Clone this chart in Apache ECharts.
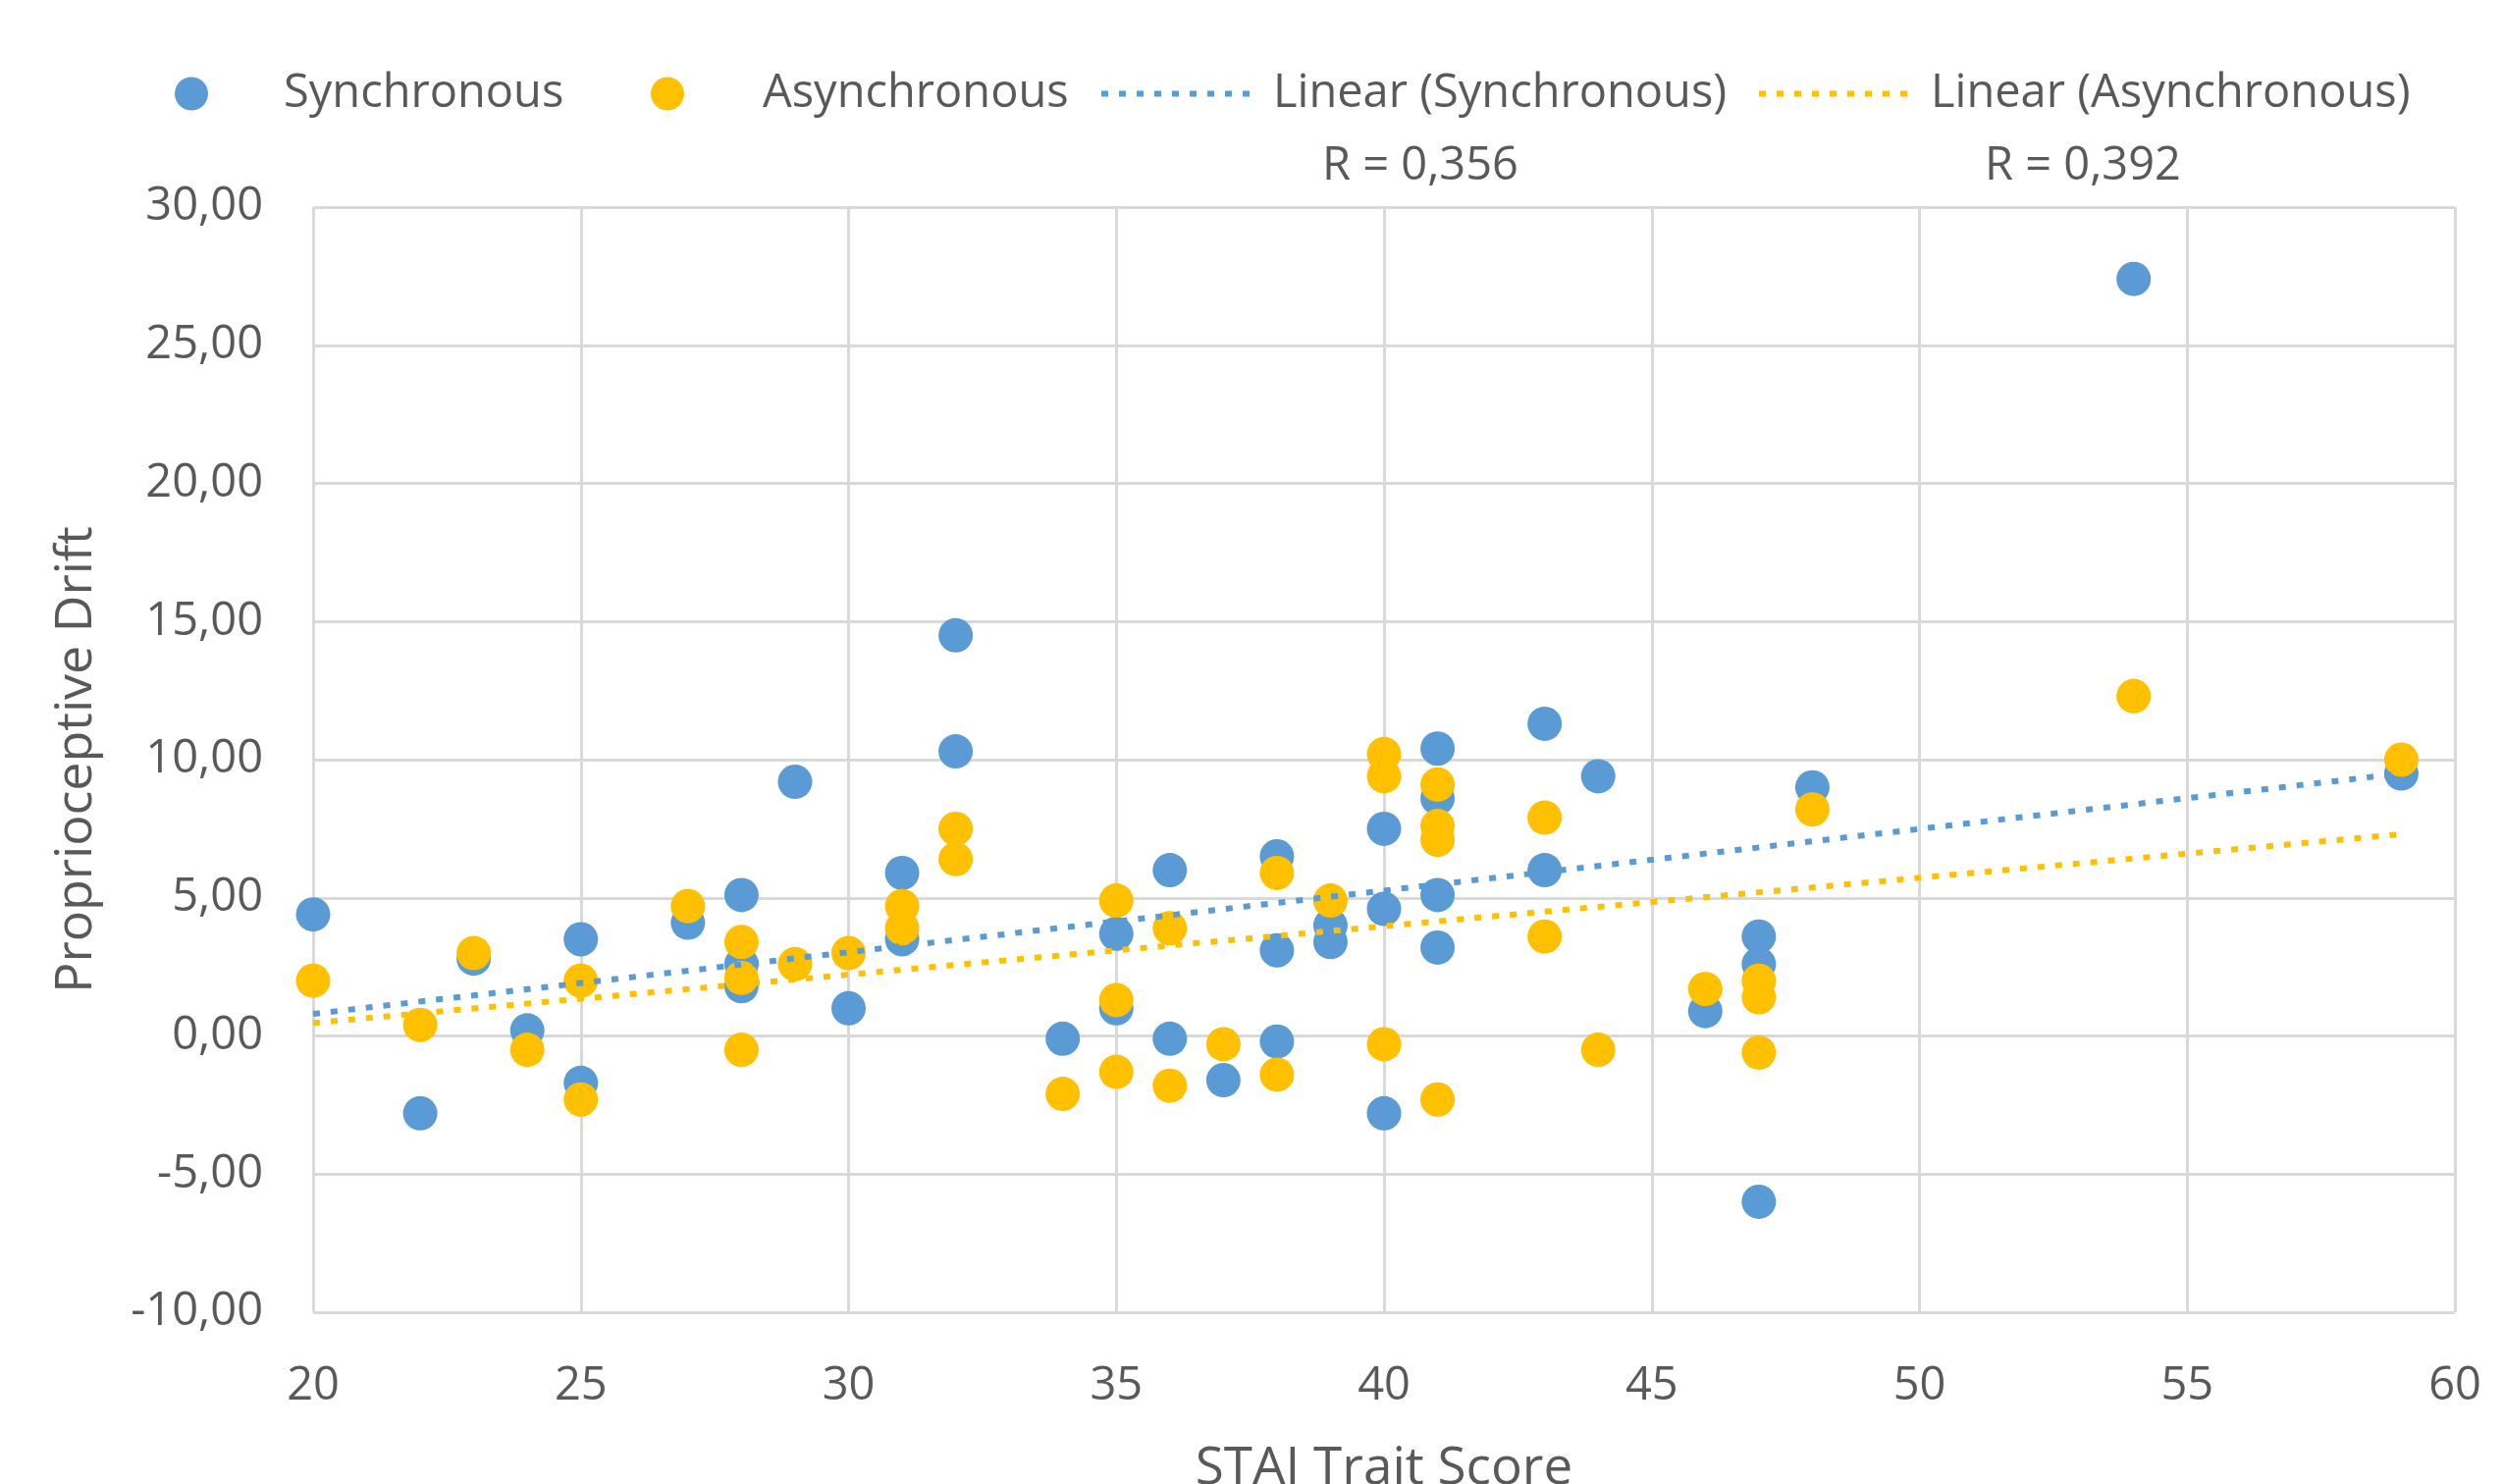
<!DOCTYPE html>
<html>
<head>
<meta charset="utf-8">
<script src="https://cdn.jsdelivr.net/npm/echarts@6/dist/echarts.min.js"></script>
<style>
html,body{margin:0;padding:0;background:#fff;}
#chart{width:2550px;height:1512px;}
</style>
</head>
<body>
<div id="chart"></div>
<script>
// ---- data ----
const syncX = [20, 22, 23, 24, 25, 25, 27, 28, 28, 28, 29, 30, 31, 31, 32, 32, 34, 35, 35, 36, 36, 37, 38, 38, 38, 39, 39, 40, 40, 40, 41, 41, 41, 41, 43, 43, 44, 46, 47, 47, 47, 48, 54, 59];
const syncY = [4.4, -2.8, 2.8, 0.2, 3.5, -1.7, 4.1, 5.1, 2.6, 1.8, 9.2, 1.0, 5.9, 3.5, 14.5, 10.3, -0.1, 3.7, 1.0, 6.0, -0.1, -1.6, 6.5, 3.1, -0.2, 4.0, 3.4, 7.5, 4.6, -2.8, 10.4, 8.6, 5.1, 3.2, 11.3, 6.0, 9.4, 0.9, 3.6, 2.6, -6.0, 9.0, 27.4, 9.5];
const asyncX = [20, 22, 23, 24, 25, 25, 27, 28, 28, 28, 29, 30, 31, 31, 32, 32, 34, 35, 35, 35, 36, 36, 37, 38, 38, 39, 40, 40, 40, 41, 41, 41, 41, 43, 43, 44, 46, 47, 47, 47, 48, 54, 59];
const asyncY = [2.0, 0.4, 3.0, -0.5, 2.0, -2.3, 4.7, 3.4, 2.1, -0.5, 2.6, 3.0, 4.7, 3.9, 7.5, 6.4, -2.1, 4.9, 1.3, -1.3, 3.9, -1.8, -0.3, 5.9, -1.4, 4.9, 10.2, 9.4, -0.3, 9.1, 7.6, 7.1, -2.3, 7.9, 3.6, -0.5, 1.7, 2.0, 1.4, -0.6, 8.2, 12.3, 10.0];
// trendline end points
const trendSyncX = [20, 59];
const trendSyncY = [0.8, 9.5];
const trendAsyncX = [20, 59];
const trendAsyncY = [0.47, 7.3];
const seriesNames = ['Synchronous', 'Asynchronous', 'Linear (Synchronous)', 'Linear (Asynchronous)'];
const rLabels = ['R = 0,356', 'R = 0,392'];
const xAxisTitle = 'STAI Trait Score';
const yAxisTitle = 'Proprioceptive Drift';

const zip = (xs, ys) => xs.map((x, i) => [x, ys[i]]);
const FONT = 'Open Sans';
const GREY = '#595959';
const BLUE = '#5B9BD5';
const GOLD = '#FFC000';

function legendBox(name, left, isLine, padLeft) {
  const item = {name: name};
  if (isLine) {
    item.itemStyle = {opacity: 0};
    item.lineStyle = {width: 6};
  } else {
    item.icon = 'circle';
  }
  return {
    left: left, top: 72, padding: 0,
    itemWidth: isLine ? 154 : 34, itemHeight: 34,
    textStyle: {fontSize: 47, color: GREY, fontFamily: FONT, padding: [0, 0, 0, padLeft]},
    data: [item]
  };
}

const chart = echarts.init(document.getElementById('chart'), null, {renderer: 'canvas'});
chart.setOption({
  animation: false,
  backgroundColor: '#ffffff',
  textStyle: {fontFamily: FONT},
  grid: {left: 319, top: 211, width: 2182, height: 1126, containLabel: false, outerBoundsMode: 'none'},
  legend: [
    legendBox(seriesNames[0], 178, false, 72),
    legendBox(seriesNames[1], 663, false, 75),
    legendBox(seriesNames[2], 1119, true, 16),
    legendBox(seriesNames[3], 1789, true, 16)
  ],
  xAxis: {
    type: 'value', min: 20, max: 60, interval: 5,
    name: xAxisTitle, nameLocation: 'middle', nameGap: 133,
    nameTextStyle: {fontSize: 53, color: GREY, fontFamily: FONT},
    axisLine: {show: false}, axisTick: {show: false},
    axisLabel: {fontSize: 47, color: GREY, fontFamily: FONT, margin: 52},
    splitLine: {show: true, lineStyle: {color: '#D9D9D9', width: 3}}
  },
  yAxis: {
    type: 'value', min: -10, max: 30, interval: 5,
    name: yAxisTitle, nameLocation: 'middle', nameGap: 215,
    nameTextStyle: {fontSize: 52, color: GREY, fontFamily: FONT},
    axisLine: {show: false}, axisTick: {show: false},
    axisLabel: {fontSize: 47, color: GREY, fontFamily: FONT, margin: 51,
      formatter: v => v.toFixed(2).replace('.', ',')},
    splitLine: {show: true, lineStyle: {color: '#D9D9D9', width: 3}}
  },
  series: [
    {name: seriesNames[0], type: 'scatter', symbol: 'circle', symbolSize: 35,
     itemStyle: {color: BLUE, opacity: 1}, data: zip(syncX, syncY), z: 2},
    {name: seriesNames[1], type: 'scatter', symbol: 'circle', symbolSize: 35,
     itemStyle: {color: GOLD, opacity: 1}, data: zip(asyncX, asyncY), z: 3},
    {name: seriesNames[2], type: 'line', symbol: 'none', color: BLUE,
     lineStyle: {color: BLUE, width: 6, type: [7, 11]}, data: zip(trendSyncX, trendSyncY), z: 4},
    {name: seriesNames[3], type: 'line', symbol: 'none', color: GOLD,
     lineStyle: {color: GOLD, width: 6, type: [7, 11]}, data: zip(trendAsyncX, trendAsyncY), z: 4}
  ],
  graphic: [
    {type: 'text', x: 1447, y: 170, style: {text: rLabels[0], fontSize: 47, fill: GREY, fontFamily: FONT, align: 'center', verticalAlign: 'middle'}},
    {type: 'text', x: 2122, y: 170, style: {text: rLabels[1], fontSize: 47, fill: GREY, fontFamily: FONT, align: 'center', verticalAlign: 'middle'}}
  ]
});
</script>
</body>
</html>
